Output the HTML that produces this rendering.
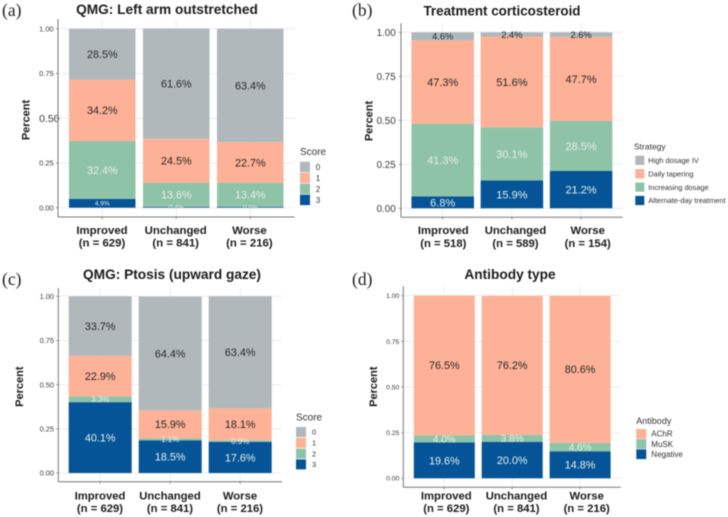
<!DOCTYPE html>
<html lang="en">
<head>
<meta charset="utf-8">
<title>Stacked percent bar charts</title>
<style>
html,body{margin:0;padding:0;background:#fff;}
#figure{display:block;width:728px;height:517px;font-family:"Liberation Sans",sans-serif;filter:blur(0.4px);}
</style>
</head>
<body>
<svg id="figure" xmlns="http://www.w3.org/2000/svg" width="728" height="517" viewBox="0 0 728 517"></svg>
<script>
const yTickValues = [0, 0.25, 0.5, 0.75, 1];
const yTickLabels = ["0.00", "0.25", "0.50", "0.75", "1.00"];
const groupCategories = ["Improved", "Unchanged", "Worse"];

const panelACounts = [629, 841, 216];
const panelALevels = ["0", "1", "2", "3"];
const panelALevel0 = [28.5, 61.6, 63.4];
const panelALevel1 = [34.2, 24.5, 22.7];
const panelALevel2 = [32.4, 13.6, 13.4];
const panelALevel3 = [4.9, 0.4, 0.5];

const panelBCounts = [518, 589, 154];
const panelBLevels = ["High dosage IV", "Daily tapering", "Increasing dosage", "Alternate-day treatment"];
const panelBLevel0 = [4.6, 2.4, 2.6];
const panelBLevel1 = [47.3, 51.6, 47.7];
const panelBLevel2 = [41.3, 30.1, 28.5];
const panelBLevel3 = [6.8, 15.9, 21.2];

const panelCCounts = [629, 841, 216];
const panelCLevels = ["0", "1", "2", "3"];
const panelCLevel0 = [33.7, 64.4, 63.4];
const panelCLevel1 = [22.9, 15.9, 18.1];
const panelCLevel2 = [3.3, 1.1, 0.9];
const panelCLevel3 = [40.1, 18.5, 17.6];

const panelDCounts = [629, 841, 216];
const panelDLevels = ["AChR", "MuSK", "Negative"];
const panelDLevel0 = [76.5, 76.2, 80.6];
const panelDLevel1 = [4.0, 3.8, 4.6];
const panelDLevel2 = [19.6, 20.0, 14.8];

const GREY = "#b0b8bc", PEACH = "#fdb196", GREEN = "#8fc3a8", BLUE = "#045497";
const DARK_TEXT = "#26292b", LIGHT_TEXT = "#e6efea";

const panels = [
  {
    id: "a", letter: "(a)", letterX: 2, letterY: 16, title: "QMG: Left arm outstretched", titleX: 167, titleY: 14, titleSize: 13.7,
    series: [panelALevel0, panelALevel1, panelALevel2, panelALevel3], levels: panelALevels, counts: panelACounts,
    colors: [GREY, PEACH, GREEN, BLUE], lightFrom: 2,
    left: 58, right: 294.7, top: 19, bottom: 217, y0: 207.7, y1: 28.7,
    barCenter: 102.25, barStep: 74, barWidth: 66.5, labelCenter: 102, labelStep: 73.7, xBase1: 234, xBase2: 246.7, xSize: 11.4,
    tickSize: 7.5, tickRight: 53.7, oddTick: 2, oddTickSize: 10.5, oddTickRight: 59.5,
    percentX: 29.5, percentY: 120, percentSize: 11,
    valueSize: 10.8, smallBelow: 5, smallSize: 6.5,
    legendTitle: "Score", legendX: 300, legendTitleY: 155, legendTitleSize: 10, swX: 300, swW: 10, swY: 161.7, swH: 10.4, swStep: 11, legLabelX: 315.7, legLabelSize: 8
  },
  {
    id: "b", letter: "(b)", letterX: 352, letterY: 16, title: "Treatment corticosteroid", titleX: 502, titleY: 15.5, titleSize: 13.4,
    series: [panelBLevel0, panelBLevel1, panelBLevel2, panelBLevel3], levels: panelBLevels, counts: panelBCounts,
    colors: [GREY, PEACH, GREEN, BLUE], lightFrom: 2,
    left: 401, right: 622.7, top: 23.3, bottom: 217.3, y0: 208.3, y1: 32.3,
    barCenter: 442.7, barStep: 69.2, barWidth: 62.5, labelCenter: 443.3, labelStep: 72.2, xBase1: 234, xBase2: 247, xSize: 11.3,
    tickSize: 9.8, tickRight: 395.7, oddTick: -1,
    percentX: 372.5, percentY: 121, percentSize: 11,
    valueSize: 11, smallBelow: 5, smallSize: 9.3,
    legendTitle: "Strategy", legendX: 634, legendTitleY: 149.3, legendTitleSize: 8.5, swX: 635.3, swW: 9, swY: 155.7, swH: 9.2, swStep: 13.4, legLabelX: 648.3, legLabelSize: 7.4
  },
  {
    id: "c", letter: "(c)", letterX: 2, letterY: 285, title: "QMG: Ptosis (upward gaze)", titleX: 172, titleY: 279, titleSize: 13.7,
    series: [panelCLevel0, panelCLevel1, panelCLevel2, panelCLevel3], levels: panelCLevels, counts: panelCCounts,
    colors: [GREY, PEACH, GREEN, BLUE], lightFrom: 2,
    left: 58.3, right: 282, top: 288, bottom: 481.7, y0: 473, y1: 296.3,
    barCenter: 100.2, barStep: 70, barWidth: 63, labelCenter: 100, labelStep: 70, xBase1: 499.7, xBase2: 512, xSize: 11.3,
    tickSize: 7.4, tickRight: 54, oddTick: -1,
    percentX: 23, percentY: 386.7, percentSize: 11,
    valueSize: 10.8, smallBelow: 4, smallSize: 8,
    legendTitle: "Score", legendX: 296, legendTitleY: 420.7, legendTitleSize: 10, swX: 296, swW: 10, swY: 427, swH: 10, swStep: 10.8, legLabelX: 312, legLabelSize: 7.5
  },
  {
    id: "d", letter: "(d)", letterX: 352, letterY: 285, title: "Antibody type", titleX: 510, titleY: 279, titleSize: 13.7,
    series: [panelDLevel0, panelDLevel1, panelDLevel2], levels: panelDLevels, counts: panelDCounts,
    colors: [PEACH, GREEN, BLUE], lightFrom: 1,
    left: 403.3, right: 620.7, top: 286.3, bottom: 487.3, y0: 478.3, y1: 295.7,
    barCenter: 444.3, barStep: 67.9, barWidth: 61, labelCenter: 446.3, labelStep: 70.2, xBase1: 499.7, xBase2: 512, xSize: 11.3,
    tickSize: 6.8, tickRight: 399.3, oddTick: -1,
    percentX: 377, percentY: 386.7, percentSize: 11,
    valueSize: 10.8, smallBelow: 5, smallSize: 10,
    legendTitle: "Antibody", legendX: 636.3, legendTitleY: 424, legendTitleSize: 9, swX: 636.3, swW: 10, swY: 429, swH: 9.7, swStep: 10.2, legLabelX: 651.3, legLabelSize: 8
  }
];

const SVG_NS = "http://www.w3.org/2000/svg";
const root = document.getElementById("figure");

function shape(parent, tag, props, content) {
  const el = document.createElementNS(SVG_NS, tag);
  for (const key in props) el.setAttribute(key, props[key]);
  if (content !== undefined) el.textContent = content;
  parent.appendChild(el);
  return el;
}

function drawPanel(p) {
  const yScale = v => p.y0 + (p.y1 - p.y0) * v;
  const xBar = i => p.barCenter + p.barStep * i;
  const xLabel = i => p.labelCenter + p.labelStep * i;

  const group = shape(root, "g", {});
  
  

  const letter = shape(group, "text", { x: p.letterX, y: p.letterY, "font-family": '"Liberation Serif",serif', "font-size": 17.5, fill: "#222" }, p.letter);
  
  

  const title = shape(group, "text", { x: p.titleX, y: p.titleY, "text-anchor": "middle", "font-weight": "bold", "font-size": p.titleSize, fill: "#1c1c1c" }, p.title);
  
  

  yTickValues.forEach((v, i) => {
    const grid = shape(group, "line", { x1: p.left, x2: p.right, y1: yScale(v), y2: yScale(v), stroke: "#ececec", "stroke-width": 1 });
    
    
    const mark = shape(group, "line", { x1: p.left - 2, x2: p.left, y1: yScale(v), y2: yScale(v), stroke: "#666", "stroke-width": 0.7 });
    
    
    const odd = i === p.oddTick;
    const label = shape(group, "text", { x: odd ? p.oddTickRight : p.tickRight, y: yScale(v) + (odd ? p.oddTickSize : p.tickSize) * 0.36, "text-anchor": "end", "font-size": odd ? p.oddTickSize : p.tickSize, fill: "#3a3a3a" }, yTickLabels[i]);
    
    
  });

  groupCategories.forEach((name, i) => {
    const grid = shape(group, "line", { x1: xBar(i), x2: xBar(i), y1: p.top, y2: p.bottom, stroke: "#ececec", "stroke-width": 1 });
    
    
  });

  groupCategories.forEach((name, i) => {
    let cumulative = 0;
    for (let s = p.series.length - 1; s >= 0; s--) {
      const value = p.series[s][i];
      const start = cumulative / 100;
      const end = (cumulative + value) / 100;
      cumulative += value;
      const bar = shape(group, "rect", { x: xBar(i) - p.barWidth / 2, y: yScale(end), width: p.barWidth, height: yScale(start) - yScale(end), fill: p.colors[s] });
      
      
    }
  });

  groupCategories.forEach((name, i) => {
    let cumulative = 0;
    for (let s = p.series.length - 1; s >= 0; s--) {
      const value = p.series[s][i];
      const mid = (cumulative + value / 2) / 100;
      cumulative += value;
      const size = value < p.smallBelow ? p.smallSize : p.valueSize;
      const label = shape(group, "text", { x: xBar(i), y: yScale(mid) + size * 0.36, "text-anchor": "middle", "font-size": size, fill: s >= p.lightFrom ? LIGHT_TEXT : DARK_TEXT }, value.toFixed(1) + "%");
      
      
    }
  });

  const axisY = shape(group, "line", { x1: p.left, x2: p.left, y1: p.top, y2: p.bottom, stroke: "#777", "stroke-width": 1 });
  
  
  const axisX = shape(group, "line", { x1: p.left, x2: p.right, y1: p.bottom, y2: p.bottom, stroke: "#777", "stroke-width": 1 });
  
  

  groupCategories.forEach((name, i) => {
    const mark = shape(group, "line", { x1: xBar(i), x2: xBar(i), y1: p.bottom, y2: p.bottom + 2, stroke: "#666", "stroke-width": 0.7 });
    
    
    const line1 = shape(group, "text", { x: xLabel(i), y: p.xBase1, "text-anchor": "middle", "font-weight": "bold", "font-size": p.xSize, fill: "#1c1c1c" }, name);
    
    
    const line2 = shape(group, "text", { x: xLabel(i), y: p.xBase2, "text-anchor": "middle", "font-weight": "bold", "font-size": p.xSize, fill: "#1c1c1c" }, "(n = " + p.counts[i] + ")");
    
    
  });

  const yTitle = shape(group, "text", { transform: "translate(" + p.percentX + " " + p.percentY + ") rotate(-90)", "text-anchor": "middle", "font-weight": "bold", "font-size": p.percentSize, fill: "#1c1c1c" }, "Percent");
  
  

  const legendTitle = shape(group, "text", { x: p.legendX, y: p.legendTitleY, "font-size": p.legendTitleSize, fill: "#333" }, p.legendTitle);
  
  

  p.levels.forEach((name, s) => {
    const y = p.swY + p.swStep * s;
    const swatch = shape(group, "rect", { x: p.swX, y: y, width: p.swW, height: p.swH, fill: p.colors[s] });
    
    
    const label = shape(group, "text", { x: p.legLabelX, y: y + p.swH / 2 + p.legLabelSize * 0.36, "font-size": p.legLabelSize, fill: "#333" }, name);
    
    
  });
}

panels.forEach(drawPanel);
</script>
</body>
</html>
